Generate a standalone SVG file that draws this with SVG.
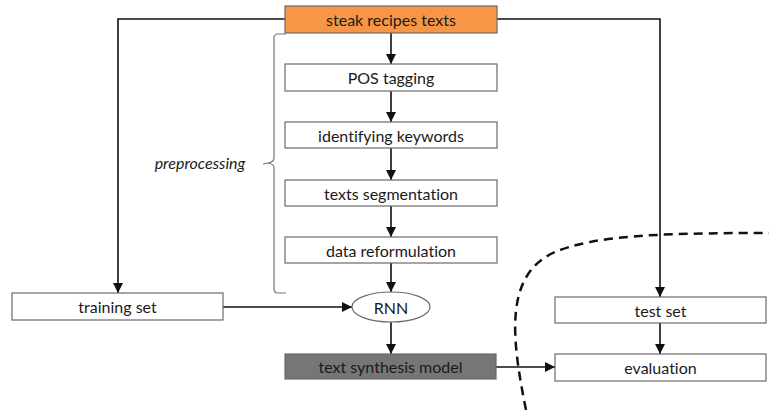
<svg xmlns="http://www.w3.org/2000/svg" width="769" height="410" viewBox="0 0 769 410">
<style>
.box{fill:#fff;stroke:#6a6a6a;stroke-width:1.2}
.t{font-family:Lato,"Liberation Sans",sans-serif;font-size:16px;fill:#1a1a1a;text-anchor:middle;dominant-baseline:central;font-variant-ligatures:none}
.c{fill:none;stroke:#111;stroke-width:1.6}
</style>
<defs>
<marker id="ah" viewBox="0 0 10 10" refX="10" refY="5" markerWidth="10" markerHeight="10" markerUnits="userSpaceOnUse" orient="auto">
<path d="M0,0 L10,5 L0,10 z" fill="#111"/>
</marker>
</defs>
<rect width="769" height="410" fill="#fff"/>
<g id="connectors">
<path class="c" d="M285,19 H118 V293" marker-end="url(#ah)"/>
<path class="c" d="M497,19 H660 V297" marker-end="url(#ah)"/>
<path class="c" d="M391,33 V64" marker-end="url(#ah)"/>
<path class="c" d="M391,91 V122" marker-end="url(#ah)"/>
<path class="c" d="M391,148 V180" marker-end="url(#ah)"/>
<path class="c" d="M391,206 V237" marker-end="url(#ah)"/>
<path class="c" d="M391,263 V292" marker-end="url(#ah)"/>
<path class="c" d="M223,307 H352" marker-end="url(#ah)"/>
<path class="c" d="M391,322 V354" marker-end="url(#ah)"/>
<path class="c" d="M496,367 H555" marker-end="url(#ah)"/>
<path class="c" d="M660,323 V354" marker-end="url(#ah)"/>
</g>
<g id="brace">
<path d="M286,34 H278 Q274,34 274,38 V158 Q274,162 268,163 L263,164 M268,163 Q274,164 274,168 V289 Q274,293 278,293 H286" fill="none" stroke="#777" stroke-width="1.2"/>
<text x="200" y="162" class="t" style="font-style:italic">preprocessing</text>
</g>
<g id="steak"><rect x="285" y="6" width="212" height="27" fill="#F79646" stroke="#6a6a6a" stroke-width="1.2"/><text x="391" y="19.5" class="t">steak recipes texts</text></g>
<g id="pos"><rect class="box" x="285" y="64" width="212" height="27"/><text x="391" y="77.5" class="t">POS tagging</text></g>
<g id="keywords"><rect class="box" x="285" y="122" width="212" height="26"/><text x="391" y="135" class="t">identifying keywords</text></g>
<g id="segmentation"><rect class="box" x="285" y="180" width="212" height="26"/><text x="391" y="193" class="t">texts segmentation</text></g>
<g id="reformulation"><rect class="box" x="285" y="237" width="212" height="26"/><text x="391" y="250" class="t">data reformulation</text></g>
<g id="training"><rect class="box" x="12" y="293" width="211" height="27"/><text x="117.5" y="306.5" class="t">training set</text></g>
<g id="rnn"><ellipse cx="391" cy="307" rx="39" ry="15" class="box"/><text x="391" y="307" class="t">RNN</text></g>
<g id="model"><rect x="285" y="354" width="211" height="25" fill="#767676" stroke="#6a6a6a" stroke-width="1.2"/><text x="390.5" y="366.5" class="t">text synthesis model</text></g>
<g id="test"><rect class="box" x="555" y="297" width="211" height="26"/><text x="660.5" y="310" class="t">test set</text></g>
<g id="evaluation"><rect class="box" x="555" y="354" width="211" height="27"/><text x="660.5" y="367.5" class="t">evaluation</text></g>
<path d="M526,410 C512,340 503,275 555,252 C595,236 650,233 769,233" fill="none" stroke="#111" stroke-width="2.5" stroke-dasharray="9,6"/>
</svg>
